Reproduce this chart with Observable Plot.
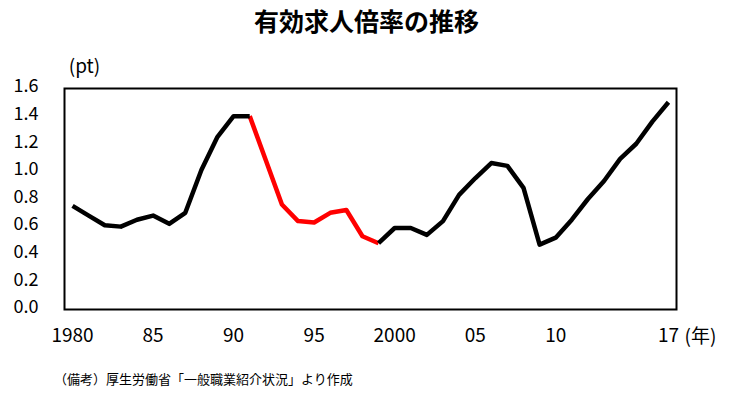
<!DOCTYPE html>
<html><head><meta charset="utf-8">
<script src="https://cdn.jsdelivr.net/npm/d3@7"></script>
<script src="https://cdn.jsdelivr.net/npm/@observablehq/plot@0.6"></script>
<style>
body{margin:0;background:#fff;font-family:"Noto Sans CJK JP",sans-serif;}
#wrap{position:relative;width:751px;height:393px;}
#title{position:absolute;left:0;width:733px;top:4px;text-align:center;font-size:25px;font-weight:bold;line-height:32px;}
#caption{position:absolute;left:54px;top:371px;font-size:13px;line-height:16px;}
</style></head>
<body><div id="wrap"><div id="title">有効求人倍率の推移</div><div id="caption">（備考）厚生労働省「一般職業紹介状況」より作成</div></div>
<script>
const years = d3.range(1980, 2018);
const ratio = [0.75,0.68,0.61,0.60,0.65,0.68,0.62,0.70,1.01,1.25,1.40,1.40,1.08,0.76,0.64,0.63,0.70,0.72,0.53,0.48,0.59,0.59,0.54,0.64,0.83,0.95,1.06,1.04,0.88,0.47,0.52,0.65,0.80,0.93,1.09,1.20,1.36,1.50];
const redStart = 1991, redEnd = 1999;
const xTicks = [1980,1985,1990,1995,2000,2005,2010,2017];
const xTickLabels = ["1980","85","90","95","2000","05","10","17"];
const yTicks = [0,0.2,0.4,0.6,0.8,1.0,1.2,1.4,1.6];

const rows = years.map((y,i)=>({year:y, v:ratio[i]}));
const black1 = rows.filter(d=>d.year<=redStart);
const red = rows.filter(d=>d.year>=redStart && d.year<=redEnd);
const black2 = rows.filter(d=>d.year>=redEnd);

const font = '"Noto Sans CJK JP", sans-serif';
const chart = Plot.plot({
  width:751, height:393,
  marginLeft:64, marginRight:75, marginTop:88, marginBottom:84,
  style:{fontFamily:font, fontSize:"18px", color:"#000", background:"transparent"},
  x:{domain:[1979.5,2017.5]},
  y:{domain:[0,1.6]},
  marks:[
    Plot.axisY({ticks:yTicks, tickSize:0, tickPadding:26, dy:-2, tickFormat:d=>d.toFixed(1), fontSize:18, label:null}),
    Plot.axisX({ticks:xTicks, tickSize:0, tickPadding:19, tickFormat:d=>xTickLabels[xTicks.indexOf(d)], fontSize:19, label:null}),
    Plot.line(red,{x:"year",y:"v",stroke:"#ff0000",strokeWidth:4.5,strokeLinecap:"butt",strokeLinejoin:"round"}),
    Plot.line(black1,{x:"year",y:"v",stroke:"#000",strokeWidth:4.5,strokeLinecap:"butt",strokeLinejoin:"round"}),
    Plot.line(black2,{x:"year",y:"v",stroke:"#000",strokeWidth:4.5,strokeLinecap:"butt",strokeLinejoin:"round"}),
    Plot.frame({stroke:"#000",strokeWidth:2}),
    Plot.text(["(pt)"],{frameAnchor:"top-left",dx:20,dy:-22,lineAnchor:"middle",text:d=>d,fontSize:19,textAnchor:"middle"}),
    Plot.text(["(年)"],{frameAnchor:"bottom-right",dx:24,dy:27,lineAnchor:"middle",text:d=>d,fontSize:19,textAnchor:"middle"})
  ]
});
document.getElementById("wrap").prepend(chart);
chart.style.position="absolute";chart.style.left="0";chart.style.top="0";
</script>
</body></html>
